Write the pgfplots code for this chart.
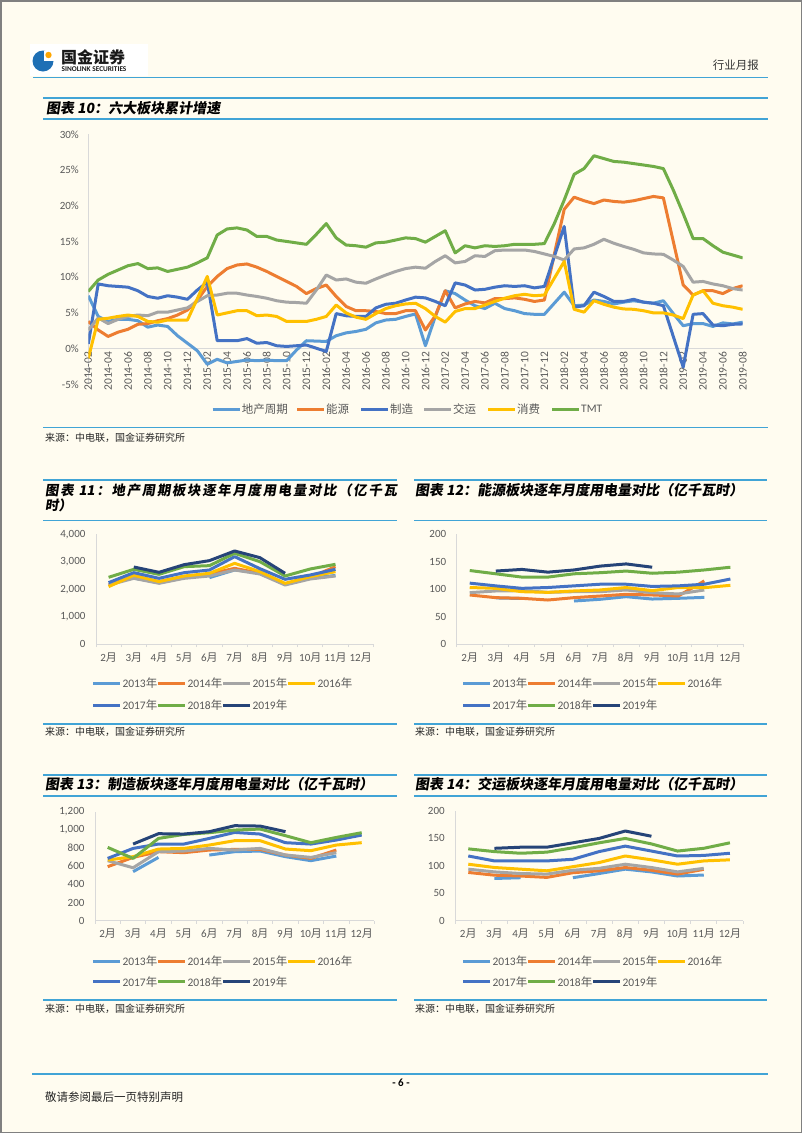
\documentclass[border=0pt]{standalone}
\usepackage{pgfplots}
\pgfplotsset{compat=1.18}
\usepackage{pgfplotstable}
\usepackage{fontspec}
\setmainfont{Carlito}
\newfontfamily\cjk{Noto Sans CJK SC}
\newfontfamily\cjkt{Noto Sans CJK SC}[FakeSlant=0.15]
\definecolor{pagebg}{HTML}{FFFCF0}
\definecolor{rule}{HTML}{41A4D6}
\definecolor{cA}{HTML}{5B9BD5}
\definecolor{cB}{HTML}{ED7D31}
\definecolor{cC}{HTML}{A5A5A5}
\definecolor{cD}{HTML}{FFC000}
\definecolor{cE}{HTML}{4472C4}
\definecolor{cF}{HTML}{70AD47}
\definecolor{cG}{HTML}{264478}
\definecolor{tick}{HTML}{595959}
\definecolor{axl}{HTML}{D9D9D9}
\definecolor{logoblue}{HTML}{1E6FB5}

\pgfplotstableread{
i dc ny zz jy xf tmt
0 7.4 3.8 0.65 2.6 -1.35 8.0
1 4.5 2.6 9.05 4.3 4.1 9.6
2 3.8 1.7 8.8 3.5 4.25 10.4
3 4.1 2.3 8.7 4.1 4.5 11.0
4 4.1 2.7 8.6 4.5 4.7 11.6
5 3.9 3.4 8.1 4.7 4.5 11.9
6 3.0 3.5 7.3 4.6 3.8 11.2
7 3.3 3.9 7.05 5.1 3.7 11.3
8 3.1 4.2 7.4 5.1 4.0 10.8
9 1.8 4.7 7.2 5.4 4.0 11.1
10 0.75 5.4 6.9 5.7 4.0 11.4
11 -0.3 6.8 8.2 6.6 7.0 12.0
12 -2.2 8.7 9.3 7.4 10.1 12.7
13 -1.5 10.1 1.1 7.5 4.7 15.9
14 -2.0 11.2 1.1 7.75 5.0 16.75
15 -1.8 11.7 1.1 7.75 5.3 16.9
16 -1.6 11.85 1.4 7.5 5.3 16.6
17 -1.7 11.4 0.75 7.3 4.6 15.7
18 -1.6 10.8 0.85 7.05 4.7 15.7
19 -1.7 10.1 0.4 6.7 4.5 15.2
20 -1.7 9.4 0.3 6.5 3.8 15.0
21 -0.2 8.7 0.4 6.45 3.8 14.8
22 1.1 7.7 0.5 6.35 3.8 14.6
23 1.05 8.4 0.05 8.2 4.1 16.0
24 1.0 8.9 -0.4 10.3 4.5 17.5
25 1.8 7.3 4.9 9.6 6.1 15.5
26 2.2 5.9 4.6 9.75 5.0 14.5
27 2.4 5.3 4.5 9.3 4.4 14.4
28 2.7 5.3 4.5 9.15 4.1 14.2
29 3.6 5.2 5.7 9.75 4.9 14.8
30 4.0 4.9 6.2 10.3 5.6 14.9
31 4.1 4.9 6.35 10.8 6.0 15.2
32 4.5 5.3 6.8 11.2 6.25 15.5
33 4.85 5.3 7.2 11.4 6.35 15.4
34 0.4 2.6 7.1 11.25 5.6 14.9
35 4.5 4.6 6.6 12.2 4.5 15.7
36 8.1 8.1 6.0 13.0 3.7 16.5
37 7.7 5.7 9.2 12.0 5.2 13.4
38 6.8 6.25 8.9 12.2 5.6 14.4
39 6.0 6.6 8.2 13.0 5.6 14.1
40 5.6 6.4 8.3 12.9 6.1 14.4
41 6.35 7.0 8.6 13.7 6.6 14.3
42 5.6 7.0 8.8 13.8 7.05 14.4
43 5.3 7.1 8.7 13.8 7.4 14.6
44 4.9 6.9 8.8 13.8 7.6 14.6
45 4.8 6.6 8.5 13.6 7.4 14.6
46 4.8 6.8 8.7 13.25 7.5 14.7
47 6.35 13.2 12.9 12.9 9.85 17.5
48 7.9 19.5 17.1 12.4 12.2 20.8
49 6.0 21.2 5.8 13.95 5.5 24.4
50 6.1 20.7 6.0 14.1 5.1 25.2
51 6.8 20.3 7.9 14.6 6.7 27.0
52 6.6 20.8 7.3 15.3 6.2 26.6
53 6.25 20.6 6.6 14.75 5.8 26.2
54 6.5 20.5 6.6 14.3 5.55 26.1
55 6.7 20.7 6.9 13.9 5.5 25.9
56 6.5 21.0 6.5 13.4 5.3 25.7
57 6.35 21.3 6.35 13.25 5.0 25.5
58 6.7 21.1 6.0 13.2 5.0 25.2
59 4.9 15.0 1.7 12.4 4.7 22.2
60 3.2 8.9 -2.6 11.5 4.2 18.9
61 3.5 7.5 4.8 9.3 7.5 15.4
62 3.5 8.1 4.9 9.4 8.1 15.4
63 3.1 8.1 3.3 9.05 6.35 14.4
64 3.6 7.7 3.2 8.8 6.0 13.5
65 3.45 8.4 3.4 8.4 5.8 13.1
66 3.7 8.8 3.45 8.2 5.5 12.7
}\tabmain

\pgfplotstableread{
k a b c d e f g
0 nan 2152 2152 2091 2237 2432 nan
1 2400 2456 2395 2505 2602 2723 2808
2 2250 2274 2213 2274 2395 2541 2614
3 nan 2456 2395 2480 2602 2821 2894
4 2420 2553 2480 2578 2699 2857 3040
5 2700 2760 2699 2942 3185 3307 3392
6 2600 2578 2553 2638 2748 3003 3149
7 2180 2188 2152 2213 2359 2480 2578
8 2400 2432 2371 2456 2517 2736 nan
9 2500 2821 2480 2638 2723 2906 nan
}\tabdc

\pgfplotstableread{
k a b c d e f g
0 nan 89.4 93.6 103 111 134 nan
1 84 84.5 96.7 101.5 106 128 133
2 83 83.3 97.3 95.4 101.5 122 136
3 nan 80.2 94.2 94.2 103 122 131
4 78.4 84.5 95.4 96.7 106 128 135
5 81.5 87.5 95.4 98.5 109 130 142
6 86.3 90.6 98.5 103 109 133 146
7 82 89.4 93.6 97.3 105 129 140
8 83.3 87.5 91.2 103 106 131 nan
9 85 115 98.5 102.7 109 135 nan
10 nan nan nan 107 118.5 140 nan
}\tabny

\pgfplotstableread{
k a b c d e f g
0 nan 595 661 668 686 807 nan
1 540 697 583 705 796 686 844
2 697 760 760 789 844 906 958
3 nan 749 767 796 844 950 954
4 723 778 796 833 906 969 980
5 760 785 778 881 972 998 1046
6 767 785 796 881 954 1009 1042
7 705 723 723 789 859 936 980
8 661 686 697 771 844 859 nan
9 712 778 749 833 888 917 nan
10 nan nan nan 859 943 969 nan
}\tabzz

\pgfplotstableread{
k a b c d e f g
0 nan 88 94 103 118 131 nan
1 77 83 89 97 109 126 132
2 78.4 81.5 86 94 109 123 134
3 nan 79 85 91 109 125 134
4 78.4 87.5 92 98.5 112 133 142
5 86 91 95.5 106 126 142 150
6 94 97 103 118 136 150 163.5
7 89 92 97 111 127 140 154
8 81.5 85 89 103 118 127 nan
9 83.3 93.6 95.5 109 119 132 nan
10 nan nan nan 111 123 142 nan
}\tabjy

\pgfplotsset{
  smallchart/.style={
    scale only axis, anchor=south west,
    xmin=-0.5, xmax=10.5, ymin=0,
    axis x line*=bottom, axis y line*=left,
    axis line style={axl, line width=0.8pt},
    xtick={0,...,10},
    xticklabels={{2{\cjk 月}},{3{\cjk 月}},{4{\cjk 月}},{5{\cjk 月}},{6{\cjk 月}},{7{\cjk 月}},{8{\cjk 月}},{9{\cjk 月}},{10{\cjk 月}},{11{\cjk 月}},{12{\cjk 月}}},
    major tick length=0pt,
    minor xtick={-0.5,0.5,...,10.5},
    minor tick length=3pt, xtick align=outside,
    minor tick style={axl, line width=0.8pt},
    tick label style={font=\fontsize{11}{13}\selectfont, text=tick},
    yticklabel style={xshift=-7pt},
    xticklabel style={yshift=-5pt},
    unbounded coords=jump, no markers,
    every axis plot/.append style={line width=3pt, line join=round},
  },
}

\newcommand\hl[3]{\draw[rule, line width=1.5pt] (#1pt,-#3pt) -- (#2pt,-#3pt);}
\newcommand\src[2]{\node[anchor=west, inner sep=0pt, font=\cjk\fontsize{10}{12}\selectfont, text=black!85] at (#1pt,-#2pt) {来源：中电联，国金证券研究所};}
\newcommand\leg[4]{\draw[#3, line width=3pt] (#1pt,-#2pt) -- ({#1pt+27pt},-#2pt);
  \node[anchor=west, inner sep=0pt, font=\fontsize{11.5}{13}\selectfont, text=tick] at ({#1pt+29pt},-#2pt) {#4};}
\newcommand\smallleg[3]{%
  \foreach \cc/\yy [count=\n from 0] in {cA/2013,cB/2014,cC/2015,cD/2016}{
    \pgfmathsetmacro\xx{#1+65*\n}
    \leg{\xx}{#2}{\cc}{\yy{\cjk 年}}
  }
  \foreach \cc/\yy [count=\n from 0] in {cE/2017,cF/2018,cG/2019}{
    \pgfmathsetmacro\xx{#1+65*\n}
    \leg{\xx}{#3}{\cc}{\yy{\cjk 年}}
  }}
\newcommand\ctitle[3]{\node[anchor=west, inner sep=0pt, font=\cjkt\bfseries\fontsize{14}{16}\selectfont] at (#1pt,-#2pt) {#3};}

\begin{document}
\begin{tikzpicture}
\useasboundingbox (0pt,0pt) rectangle (802pt,-1133pt);
\fill[pagebg] (0pt,0pt) rectangle (802pt,-1133pt);
\draw[black!50, line width=1.5pt] (0.75pt,-0.75pt) rectangle (801.25pt,-1132.25pt);

% header
\fill[white] (30pt,-44pt) rectangle (148pt,-76pt);
\fill[logoblue] (43pt,-61pt) circle (10.5pt);
\fill[white] (44pt,-51pt) rectangle (55pt,-61pt);
\fill[orange!70!yellow] (48.5pt,-55pt) circle (3.2pt);
\node[anchor=west, inner sep=0pt, font=\cjk\bfseries\fontsize{16}{18}\selectfont, text=black!90] at (61pt,-57pt) {国金证券};
\node[anchor=west, inner sep=0pt, font=\bfseries\fontsize{7.3}{8}\selectfont, text=black!90] at (61.5pt,-69.5pt) {SINOLINK SECURITIES};
\node[anchor=east, inner sep=0pt, font=\cjk\fontsize{11.5}{13}\selectfont, text=black!80] at (759pt,-65pt) {行业月报};
\hl{33}{768}{77.5}

% chart 10
\hl{43}{768}{98}
\ctitle{46}{108.5}{图表 10：六大板块累计增速}
\hl{43}{768}{119}
\begin{axis}[at={(88.3pt,-384.3pt)}, anchor=south west, scale only axis,
  width=654.4pt, height=250pt,
  xmin=0, xmax=66, ymin=-5, ymax=30,
  axis x line=middle, axis y line=left,
  axis line style={axl, line width=0.8pt, -},
  hide obscured x ticks=false, hide obscured y ticks=false,
  xtick={0,2,...,66},
  xticklabels={2014-02,2014-04,2014-06,2014-08,2014-10,2014-12,2015-02,2015-04,2015-06,2015-08,2015-10,2015-12,2016-02,2016-04,2016-06,2016-08,2016-10,2016-12,2017-02,2017-04,2017-06,2017-08,2017-10,2017-12,2018-02,2018-04,2018-06,2018-08,2018-10,2018-12,2019-02,2019-04,2019-06,2019-08},
  ytick={-5,0,5,10,15,20,25,30},
  yticklabels={-5\%,0\%,5\%,10\%,15\%,20\%,25\%,30\%},
  major tick length=0pt,
  tick label style={font=\fontsize{11}{13}\selectfont, text=tick},
  xticklabel style={rotate=90, anchor=east, font=\fontsize{11.5}{13}\selectfont},
  yticklabel style={anchor=east, xshift=-6pt},
  no markers,
  every axis plot/.append style={line width=3pt, line join=round},
]
\addplot[cA] table[x=i,y=dc]{\tabmain};
\addplot[cB] table[x=i,y=ny]{\tabmain};
\addplot[cE] table[x=i,y=zz]{\tabmain};
\addplot[cC] table[x=i,y=jy]{\tabmain};
\addplot[cD] table[x=i,y=xf]{\tabmain};
\addplot[cF] table[x=i,y=tmt]{\tabmain};
\end{axis}
\leg{212.7}{409}{cA}{\cjk 地产周期}
\leg{297}{409}{cB}{\cjk 能源}
\leg{361}{409}{cE}{\cjk 制造}
\leg{424}{409}{cC}{\cjk 交运}
\leg{488}{409}{cD}{\cjk 消费}
\leg{552}{409}{cF}{TMT}
\hl{43}{768}{427.7}
\src{45}{437.5}

% chart 11
\hl{43}{397}{480}
\node[anchor=west, inner sep=0pt, font=\cjkt\bfseries\fontsize{13.5}{15}\selectfont] at (45pt,-490.7pt)
  {\makebox[352pt][s]{图\hfill 表\hfill\ 11\hfill ：\hfill 地\hfill 产\hfill 周\hfill 期\hfill 板\hfill 块\hfill 逐\hfill 年\hfill 月\hfill 度\hfill 用\hfill 电\hfill 量\hfill 对\hfill 比\hfill （\hfill 亿\hfill 千\hfill 瓦}};
\node[anchor=west, inner sep=0pt, font=\cjkt\bfseries\fontsize{13.5}{15}\selectfont] at (45pt,-505.3pt) {时）};
\hl{43}{397}{520.7}
\begin{axis}[smallchart, at={(96pt,-644pt)}, width=277.3pt, height=109.7pt,
  ymax=4000, ytick={0,1000,2000,3000,4000},
  yticklabels={0,{1,000},{2,000},{3,000},{4,000}}]
\addplot[cA] table[x=k,y=a]{\tabdc};
\addplot[cB] table[x=k,y=b]{\tabdc};
\addplot[cC] table[x=k,y=c]{\tabdc};
\addplot[cD] table[x=k,y=d]{\tabdc};
\addplot[cE] table[x=k,y=e]{\tabdc};
\addplot[cF] table[x=k,y=f]{\tabdc};
\addplot[cG] table[x=k,y=g]{\tabdc};
\end{axis}
\smallleg{93.3}{683}{705}
\hl{43}{397}{724}
\src{45}{732}

% chart 12
\hl{414}{767}{480}
\ctitle{415}{490}{图表 12：能源板块逐年月度用电量对比（亿千瓦时）}
\hl{414}{767}{520.7}
\begin{axis}[smallchart, at={(456.7pt,-644pt)}, width=286.7pt, height=109.7pt,
  ymax=200, ytick={0,50,100,150,200}, yticklabels={0,50,100,150,200}]
\addplot[cA] table[x=k,y=a]{\tabny};
\addplot[cB] table[x=k,y=b]{\tabny};
\addplot[cC] table[x=k,y=c]{\tabny};
\addplot[cD] table[x=k,y=d]{\tabny};
\addplot[cE] table[x=k,y=e]{\tabny};
\addplot[cF] table[x=k,y=f]{\tabny};
\addplot[cG] table[x=k,y=g]{\tabny};
\end{axis}
\smallleg{463.3}{683}{705}
\hl{414}{767}{724}
\src{415}{732}

% chart 13
\hl{43}{397}{775}
\ctitle{45}{784}{图表 13：制造板块逐年月度用电量对比（亿千瓦时）}
\hl{43}{397}{796}
\begin{axis}[smallchart, at={(95pt,-920.7pt)}, width=279.4pt, height=109pt,
  ymax=1200, ytick={0,200,400,600,800,1000,1200},
  yticklabels={0,200,400,600,800,{1,000},{1,200}}]
\addplot[cA] table[x=k,y=a]{\tabzz};
\addplot[cB] table[x=k,y=b]{\tabzz};
\addplot[cC] table[x=k,y=c]{\tabzz};
\addplot[cD] table[x=k,y=d]{\tabzz};
\addplot[cE] table[x=k,y=e]{\tabzz};
\addplot[cF] table[x=k,y=f]{\tabzz};
\addplot[cG] table[x=k,y=g]{\tabzz};
\end{axis}
\smallleg{93.3}{961}{981.7}
\hl{43}{397}{1000}
\src{45}{1008.5}

% chart 14
\hl{414}{767}{775}
\ctitle{415}{784}{图表 14：交运板块逐年月度用电量对比（亿千瓦时）}
\hl{414}{767}{796}
\begin{axis}[smallchart, at={(455.2pt,-920.7pt)}, width=287.8pt, height=109.7pt,
  ymax=200, ytick={0,50,100,150,200}, yticklabels={0,50,100,150,200}]
\addplot[cA] table[x=k,y=a]{\tabjy};
\addplot[cB] table[x=k,y=b]{\tabjy};
\addplot[cC] table[x=k,y=c]{\tabjy};
\addplot[cD] table[x=k,y=d]{\tabjy};
\addplot[cE] table[x=k,y=e]{\tabjy};
\addplot[cF] table[x=k,y=f]{\tabjy};
\addplot[cG] table[x=k,y=g]{\tabjy};
\end{axis}
\smallleg{463.3}{961}{981.7}
\hl{414}{767}{1000}
\src{415}{1008.5}

% footer
\hl{32}{768}{1074}
\node[inner sep=0pt, font=\bfseries\fontsize{11}{13}\selectfont] at (401pt,-1083pt) {- 6 -};
\node[anchor=west, inner sep=0pt, font=\cjk\fontsize{11.5}{13}\selectfont, text=black!85] at (45pt,-1097pt) {敬请参阅最后一页特别声明};
\end{tikzpicture}
\end{document}
